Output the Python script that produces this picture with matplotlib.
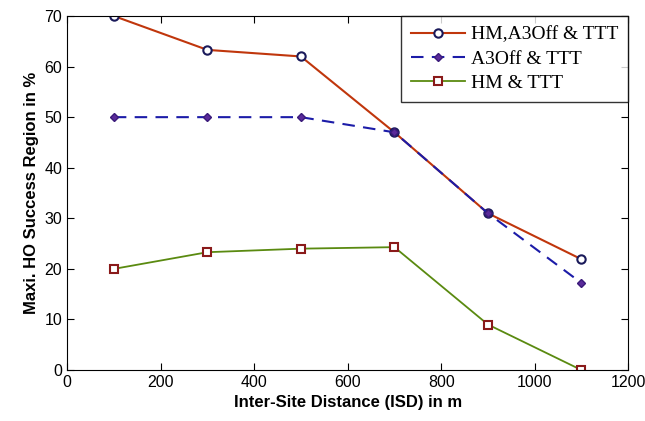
import matplotlib
matplotlib.use("Agg")
import matplotlib.pyplot as plt

isd = [100, 300, 500, 700, 900, 1100]
hm_a3off_ttt = [70, 63.3, 62, 47, 31, 21.9]
a3off_ttt = [50, 50, 50, 47, 31, 17.2]
hm_ttt = [20, 23.3, 24, 24.3, 9, 0]

plt.rcParams['font.family'] = ['Liberation Sans', 'DejaVu Sans']

fig = plt.figure(figsize=(6.45, 4.21), dpi=100)
ax = fig.add_axes([0.104, 0.121, 0.870, 0.841])

ax.plot(isd, hm_a3off_ttt, color='#c0360c', lw=1.5, marker='o', ms=6,
        mfc='white', mec='#1a1a5a', mew=1.5, label='HM,A3Off & TTT')
ax.plot(isd, a3off_ttt, color='#1c1ca8', lw=1.5, ls=(0, (6, 4)), marker='D', ms=4.5,
        mfc='#5a2a9a', mec='#3a1a7a', label='A3Off & TTT')
ax.plot(isd, hm_ttt, color='#5a8a10', lw=1.3, marker='s', ms=6,
        mfc='white', mec='#8a1a1a', mew=1.5, label='HM & TTT')

ax.set_xlim(0, 1200)
ax.set_ylim(0, 70)
ax.set_xticks(range(0, 1201, 200))
ax.set_yticks(range(0, 71, 10))
ax.tick_params(direction='in', labelsize=11.5, length=5, top=True, right=True)
ax.set_xlabel('Inter-Site Distance (ISD) in m', fontsize=12, fontweight='bold')
ax.set_ylabel('Maxi. HO Success Region in %', fontsize=12, fontweight='bold')

leg = ax.legend(loc='upper right', prop={'family': 'Liberation Serif', 'size': 14},
                fancybox=False, edgecolor='black', borderaxespad=0, handlelength=2.8,
                labelspacing=0.35, borderpad=0.5, handletextpad=0.3)
leg.get_frame().set_linewidth(1.0)

fig.savefig('out.png', dpi=100)
